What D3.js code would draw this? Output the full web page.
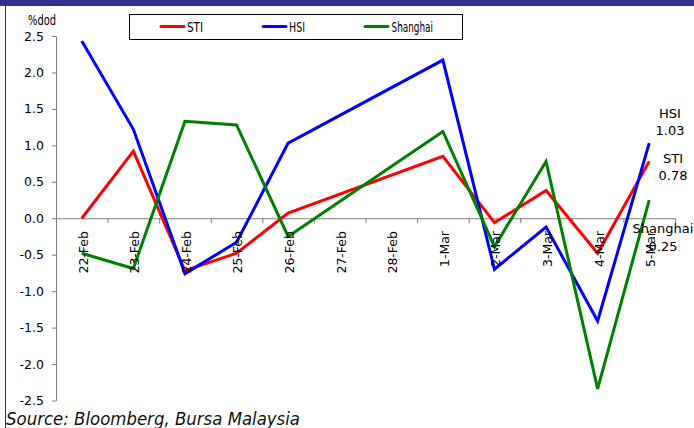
<!DOCTYPE html>
<html>
<head>
<meta charset="utf-8">
<script src="https://cdn.jsdelivr.net/npm/d3@7"></script>
<style>
  html, body { margin: 0; padding: 0; background: #fff; }
  svg { display: block; font-family: "DejaVu Sans", Verdana, sans-serif; }
</style>
</head>
<body>
<svg id="chart" width="694" height="428"></svg>
<script>
// Daily % change of regional indices
const categories = ["22-Feb", "23-Feb", "24-Feb", "25-Feb", "26-Feb", "27-Feb", "28-Feb",
                    "1-Mar", "2-Mar", "3-Mar", "4-Mar", "5-Mar"];
const sti      = [0.00, 0.92, -0.72, -0.48, 0.07, null, null, 0.85, -0.06, 0.38, -0.48, 0.78];
const hsi      = [2.43, 1.22, -0.76, -0.33, 1.03, null, null, 2.17, -0.70, -0.12, -1.41, 1.03];
const shanghai = [-0.48, -0.69, 1.33, 1.28, -0.25, null, null, 1.19, -0.39, 0.78, -2.34, 0.25];
const yTicks   = [2.5, 2.0, 1.5, 1.0, 0.5, 0.0, -0.5, -1.0, -1.5, -2.0, -2.5];

const series = [
  { name: "STI", values: sti, color: "#ff0000" },
  { name: "HSI", values: hsi, color: "#0000ff" },
  { name: "Shanghai", values: shanghai, color: "#008000" }
];

const svg = d3.select("#chart");
const plotLeft = 56, plotRight = 675, plotTop = 36, plotBottom = 400.5;

const x = d3.scaleBand().domain(categories).range([plotLeft, plotRight]).padding(0);
const xEdge = d3.scaleLinear().domain([0, categories.length]).range([plotLeft, plotRight]);
const y = d3.scaleLinear().domain([-2.5, 2.5]).range([plotBottom, plotTop]);
const cx = d => x(d) + x.bandwidth() / 2;

// header band and left rule
svg.append("rect").attr("x", 0).attr("y", 0).attr("width", 694).attr("height", 6).attr("fill", "#2e3192");
svg.append("line").attr("x1", 5.5).attr("x2", 5.5).attr("y1", 6).attr("y2", 428)
  .attr("stroke", "#333").attr("stroke-width", 1);

// y axis
const yAxis = svg.append("g").attr("transform", `translate(${plotLeft},0)`)
  .call(d3.axisLeft(y).tickValues(yTicks).tickSize(4).tickSizeOuter(0).tickPadding(8)
    .tickFormat(d => d.toFixed(1)));
yAxis.select(".domain").attr("stroke", "#808080");
yAxis.selectAll(".tick line").attr("stroke", "#808080");
yAxis.selectAll(".tick text").attr("fill", "#000").style("font-size", "12.5px")
  .style("font-family", "DejaVu Sans, sans-serif");

// x axis along zero with ticks at category boundaries
const xAxis = svg.append("g").attr("transform", `translate(0,${y(0)})`)
  .call(d3.axisBottom(xEdge).ticks(categories.length).tickSize(5).tickSizeOuter(0).tickFormat(""));
xAxis.select(".domain").attr("stroke", "#808080");
xAxis.selectAll(".tick line").attr("stroke", "#808080");

// unit label
svg.append("text").attr("x", 28).attr("y", 25).text("%dod")
  .attr("textLength", 28).attr("lengthAdjust", "spacingAndGlyphs")
  .style("font-size", "14px");

// lines (missing days skipped)
const line = d3.line()
  .x(d => cx(d.cat))
  .y(d => y(d.v));

series.forEach(s => {
  const pts = categories.map((c, i) => ({ cat: c, v: s.values[i] })).filter(d => d.v !== null);
  svg.append("path").datum(pts)
    .attr("d", line)
    .attr("fill", "none")
    .attr("stroke", s.color)
    .attr("stroke-width", 3)
    .attr("stroke-linejoin", "miter");
});

// end labels
const last = categories.length - 1;
const endLabels = [
  { name: "HSI", value: hsi[last], x: 670, y1: 118, y2: 135 },
  { name: "STI", value: sti[last], x: 673, y1: 163, y2: 180 },
  { name: "Shanghai", value: shanghai[last], x: 663, y1: 233, y2: 250.5 }
];
endLabels.forEach(l => {
  svg.append("text").attr("x", l.x).attr("y", l.y1).attr("text-anchor", "middle")
    .style("font-size", "13px").text(l.name);
  svg.append("text").attr("x", l.x).attr("y", l.y2).attr("text-anchor", "middle")
    .style("font-size", "13px").text(l.value.toFixed(2));
});

// category labels, rotated
svg.append("g").selectAll("text").data(categories).join("text")
  .attr("transform", d => `translate(${cx(d) + 1.5},231) rotate(-90)`)
  .attr("text-anchor", "end")
  .attr("dy", "0.35em")
  .style("font-size", "12.5px")
  .text(d => d);

// legend
const lg = svg.append("g");
lg.append("rect").attr("x", 129.5).attr("y", 14.5).attr("width", 333).attr("height", 25)
  .attr("fill", "#fff").attr("stroke", "#000").attr("stroke-width", 1);
const legendPos = [
  { x1: 161, x2: 184, tx: 187, tw: 16 },
  { x1: 263, x2: 286, tx: 289, tw: 16 },
  { x1: 365, x2: 388, tx: 391.5, tw: 41.5 }
];
series.forEach((s, i) => {
  const p = legendPos[i];
  lg.append("line").attr("x1", p.x1).attr("x2", p.x2).attr("y1", 26.5).attr("y2", 26.5)
    .attr("stroke", s.color).attr("stroke-width", 3).attr("stroke-linecap", "round");
  lg.append("text").attr("x", p.tx).attr("y", 32).text(s.name)
    .attr("textLength", p.tw).attr("lengthAdjust", "spacingAndGlyphs")
    .style("font-size", "14px");
});

// source note
svg.append("text").attr("x", 6).attr("y", 425)
  .attr("textLength", 294).attr("lengthAdjust", "spacingAndGlyphs")
  .style("font-size", "17px").style("font-style", "italic")
  .attr("fill", "#111")
  .text("Source: Bloomberg, Bursa Malaysia");
</script>
</body>
</html>
